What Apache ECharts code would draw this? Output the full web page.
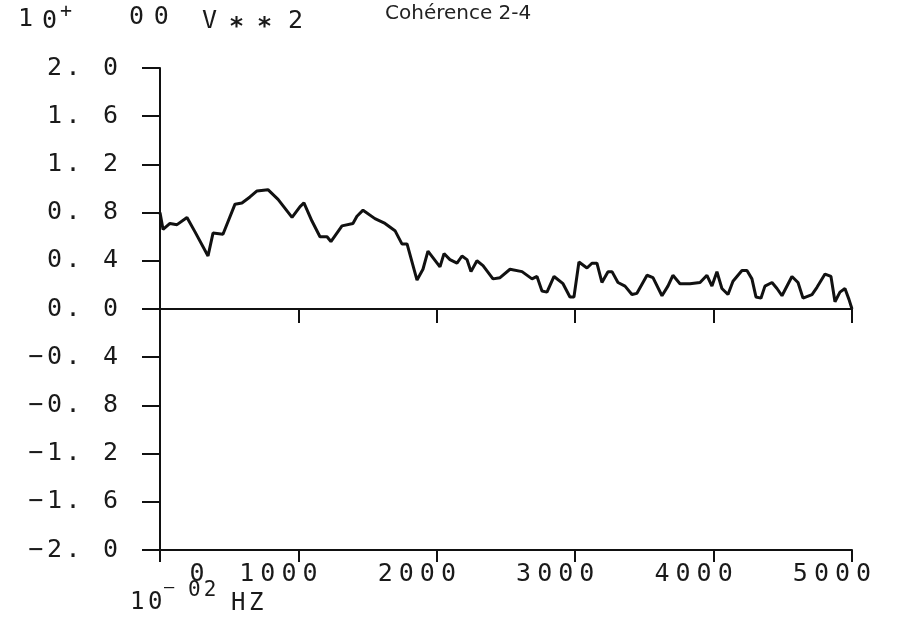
<!DOCTYPE html>
<html>
<head>
<meta charset="utf-8">
<script src="https://cdn.jsdelivr.net/npm/echarts@6/dist/echarts.min.js"></script>
<style>
html,body{margin:0;padding:0;background:#fff;}
#c{width:904px;height:637px;}
</style>
</head>
<body>
<div id="c"></div>
<script>
// Frequency (10^-02 Hz) and coherence values
const freq = [0,22,72,123,195,253,347,383,455,542,592,650,701,780,853,954,1012,
  1040,1098,1156,1207,1235,1315,1394,1423,1467,1553,1626,1698,1748,1785,1857,1900,1936,2023,
  2052,2095,2146,2182,2218,2247,2290,2334,2406,2457,2529,2616,2688,2724,2760,2796,2847,2912,2962,2991,
  3027,3085,3121,3157,3193,3237,3266,3309,3360,3410,3446,3519,3562,3627,3670,3706,3757,3829,3902,3952,3988,
  4024,4060,4104,4140,4205,4241,4277,4306,4342,4371,4422,4458,4494,4566,4610,4646,4711,4747,4805,4848,4877,4913,4949,4978,5000];
const coh = [0.80,0.66,0.71,0.70,0.76,0.64,0.44,0.63,0.62,0.87,0.88,0.93,0.98,0.99,0.91,0.76,0.85,
  0.88,0.73,0.60,0.60,0.56,0.69,0.71,0.77,0.82,0.75,0.71,0.65,0.54,0.54,0.24,0.33,0.48,0.35,
  0.46,0.41,0.38,0.44,0.41,0.31,0.40,0.36,0.25,0.26,0.33,0.31,0.25,0.27,0.15,0.14,0.27,0.21,0.10,0.10,
  0.39,0.34,0.38,0.38,0.22,0.31,0.31,0.22,0.19,0.12,0.13,0.28,0.26,0.11,0.19,0.28,0.21,0.21,0.22,0.28,0.19,
  0.31,0.17,0.12,0.23,0.32,0.32,0.25,0.10,0.09,0.19,0.22,0.17,0.11,0.27,0.22,0.09,0.12,0.18,0.29,0.27,0.06,0.14,0.17,0.08,0.00];
const xTickLabels = ['0','1000','2000','3000','4000','5000'];
const yTickLabels = ['\u22122. 0','\u22121. 6','\u22121. 2','\u22120. 8','\u22120. 4','0. 0','0. 4','0. 8','1. 2','1. 6','2. 0'];

const MONO = '"DejaVu Sans Mono", monospace';
const INK = '#1a1a1a';

function spaced(str, cls, gap) {
  return str.split('').map(c => c === ' ' ? '{' + cls + '| }' : '{' + cls + '|' + c + '}').join('{' + gap + '| }');
}

const chart = echarts.init(document.getElementById('c'), null, {renderer: 'canvas'});
const data = freq.map((f, i) => [f, coh[i]]);

const option = {
  animation: false,
  backgroundColor: '#fff',
  grid: {left: 160, right: 52, top: 68, bottom: 87, containLabel: false},
  xAxis: [
    {
      type: 'value', min: 0, max: 5000, interval: 1000, position: 'bottom',
      axisLine: {show: true, onZero: true, lineStyle: {color: '#111', width: 2}},
      axisTick: {show: true, inside: false, length: 14, lineStyle: {color: '#111', width: 2}},
      axisLabel: {show: false},
      splitLine: {show: false}
    },
    {
      type: 'value', min: 0, max: 5000, interval: 1000, position: 'bottom',
      axisLine: {show: true, onZero: false, lineStyle: {color: '#111', width: 2}},
      axisTick: {show: true, inside: false, length: 12, lineStyle: {color: '#111', width: 2}},
      axisLabel: {
        show: true, margin: 12,
        formatter: function (v) {
          const idx = Math.round(v / 1000);
          const txt = spaced(xTickLabels[idx], 'd', 'g');
          return idx === 0 ? '{pad74| }' + txt : txt + '{pad40| }';
        },
        rich: {
          d: {fontFamily: MONO, fontSize: 25, color: INK},
          g: {fontFamily: MONO, fontSize: 10, color: INK},
          pad74: {width: 74, fontSize: 25},
          pad40: {width: 40, fontSize: 25}
        }
      },
      splitLine: {show: false}
    }
  ],
  yAxis: {
    type: 'value', min: -2, max: 2, interval: 0.4,
    axisLine: {show: true, onZero: false, lineStyle: {color: '#111', width: 2}},
    axisTick: {show: true, inside: false, length: 18, lineStyle: {color: '#111', width: 2}},
    axisLabel: {
      show: true, margin: 42,
      formatter: function (v) {
        const idx = Math.round((v + 2) / 0.4);
        return spaced(yTickLabels[idx], 'd', 'g');
      },
      rich: {
        d: {fontFamily: MONO, fontSize: 25, color: INK},
        g: {fontFamily: MONO, fontSize: 6, color: INK}
      }
    },
    splitLine: {show: false}
  },
  series: [{
    type: 'line', xAxisIndex: 0, yAxisIndex: 0, data: data,
    showSymbol: false, symbol: 'none', smooth: false,
    lineStyle: {color: '#111', width: 3}
  }],
  graphic: [
    {type: 'text', left: 18, top: 7, style: {text: '1', font: '25px ' + MONO, fill: INK}},
    {type: 'text', left: 42, top: 9, style: {text: '0', font: '25px ' + MONO, fill: INK}},
    {type: 'text', left: 60, top: 2, style: {text: '+', font: '20px ' + MONO, fill: INK}},
    {type: 'text', left: 129, top: 5, style: {text: '{d|0}{g| }{d|0}', rich: {d: {font: '25px ' + MONO, fill: INK}, g: {font: '16px ' + MONO}}}},
    {type: 'text', left: 202, top: 9, style: {text: 'V', font: '25px ' + MONO, fill: INK}},
    {type: 'text', left: 229, top: 15, style: {text: '*', font: 'bold 25px ' + MONO, fill: INK}},
    {type: 'text', left: 257, top: 15, style: {text: '*', font: 'bold 25px ' + MONO, fill: INK}},
    {type: 'text', left: 288, top: 9, style: {text: '2', font: '25px ' + MONO, fill: INK}},
    {type: 'text', left: 385, top: 4, style: {text: 'Cohérence 2-4', font: '20px "DejaVu Sans", sans-serif', fill: '#222'}},
    {type: 'text', left: 130, top: 591, style: {text: '1', font: '24px ' + MONO, fill: INK}},
    {type: 'text', left: 148, top: 591, style: {text: '0', font: '24px ' + MONO, fill: INK}},
    {type: 'text', left: 164, top: 580, style: {text: '\u2014', font: '17px ' + MONO, fill: INK}},
    {type: 'text', left: 188, top: 580, style: {text: '{d|0}{g| }{d|2}', rich: {d: {font: '21px ' + MONO, fill: INK}, g: {font: '5px ' + MONO}}}},
    {type: 'text', left: 231, top: 592, style: {text: '{d|H}{g| }{d|Z}', rich: {d: {font: '24px ' + MONO, fill: INK}, g: {font: '6px ' + MONO}}}}
  ]
};
chart.setOption(option);
</script>
</body>
</html>
